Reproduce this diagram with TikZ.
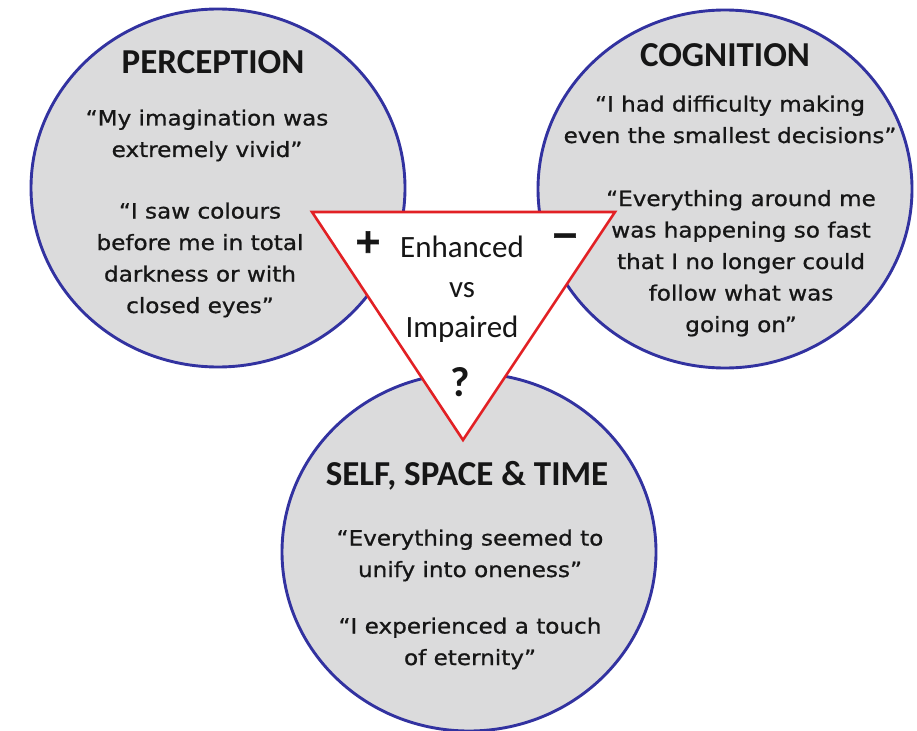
\documentclass[tikz,border=0pt]{standalone}
\usepackage{fontspec}
\setmainfont{Carlito}
\newfontfamily\quotefont[FakeStretch=1.1, FakeBold=0.9]{DejaVu Sans}
\newfontfamily\signfont[FakeBold=2]{DejaVu Sans}
\usetikzlibrary{shapes.geometric}

\definecolor{ringblue}{RGB}{50,50,160}
\definecolor{ringfill}{RGB}{219,219,220}
\definecolor{trired}{RGB}{226,32,36}
\definecolor{inktext}{RGB}{22,22,22}

\tikzset{
  theme/.style={ellipse, draw=ringblue, fill=ringfill, line width=2.9pt,
    minimum width=374pt, minimum height=358pt, inner sep=0pt},
  heading/.style={anchor=base, text=inktext,
    font=\bfseries\fontsize{35}{40}\selectfont},
  % multi-line nodes: the base anchor sits on the last line
  quote/.style={anchor=base, align=center, text=inktext,
    font=\quotefont\fontsize{21}{31.5}\selectfont},
  triangletext/.style={anchor=base, align=center, text=inktext,
    font=\fontsize{31}{40}\selectfont},
  sign/.style={text=inktext, inner sep=0pt, font=\signfont\bfseries\fontsize{34}{34}\selectfont}
}

\begin{document}
\begin{tikzpicture}[x=1pt, y=-1pt]
  \useasboundingbox[fill=white] (0,0) rectangle (917,730);

  % the three themes
  \node[theme] (perception) at (218,188) {};
  \node[theme] (cognition)  at (725,189) {};
  \node[theme] (selfspace)  at (469,552) {};

  % central triangle
  \coordinate (tl) at (312,212);
  \coordinate (tr) at (615,212);
  \coordinate (tb) at (463,440);
  \draw[trired, line width=2.6pt, fill=white, line join=miter] (tl) -- (tr) -- (tb) -- cycle;

  % perception
  \node[heading] (perchead) at (213,74) {PERCEPTION};
  \node[quote] (percq1) at (207,157) {“My imagination was\\extremely vivid”};
  \node[quote] (percq2) at (200,313) {“I saw colours\\before me in total\\darkness or with\\closed eyes”};

  % cognition
  \node[heading] (coghead) at (725,67) {COGNITION};
  \node[quote] (cogq1) at (730,143) {“I had difficulty making\\even the smallest decisions”};
  \node[quote] (cogq2) at (741,332) {“Everything around me\\was happening so fast\\that I no longer could\\follow what was\\going on”};

  % self, space and time
  \node[heading] (selfhead) at (467,485) {SELF, SPACE \& TIME};
  \node[quote] (selfq1) at (470,577) {“Everything seemed to\\unify into oneness”};
  \node[quote] (selfq2) at (470,665) {“I experienced a touch\\of eternity”};

  % triangle labels
  \node[triangletext] (evi) at (462,337) {Enhanced\\vs\\Impaired};
  \node[sign] (plus)  at (368,242) {+};
  \node[sign] (minus) at (565,240) {−};
  \node[sign, font=\bfseries\fontsize{42}{42}\selectfont] (query) at (460,382) {?};
\end{tikzpicture}
\end{document}
